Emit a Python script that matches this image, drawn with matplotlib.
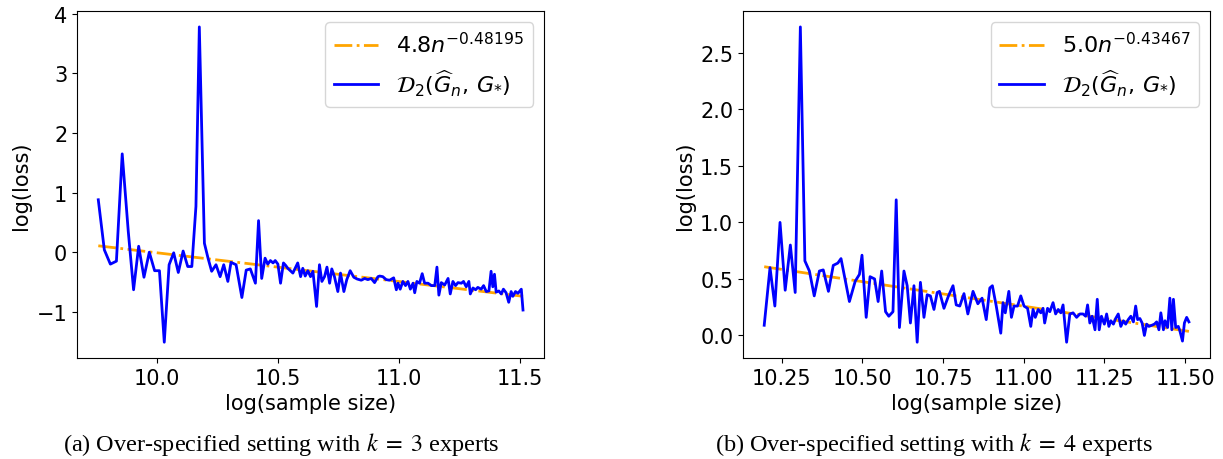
import numpy as np
import matplotlib
matplotlib.use("Agg")
import matplotlib.pyplot as plt

# ---- panel (a): k = 3 experts ----
x_a = [9.757, 9.782, 9.807, 9.832, 9.856, 9.881, 9.903, 9.924, 9.946, 9.968,
       9.990, 10.010, 10.030, 10.050, 10.069, 10.088, 10.108, 10.127, 10.144, 10.161,
       10.175, 10.196, 10.211, 10.226, 10.244, 10.261, 10.276, 10.293, 10.306, 10.327,
       10.351, 10.369, 10.386, 10.407, 10.420, 10.433, 10.447, 10.458, 10.469, 10.480,
       10.489, 10.500, 10.511, 10.523, 10.532, 10.541, 10.562, 10.582, 10.594, 10.603,
       10.613, 10.624, 10.635, 10.645, 10.660, 10.672, 10.682, 10.693, 10.703, 10.714,
       10.723, 10.734, 10.748, 10.759, 10.773, 10.785, 10.799, 10.814, 10.828, 10.845,
       10.859, 10.872, 10.886, 10.900, 10.914, 10.921, 10.934, 10.948, 10.962, 10.979,
       10.990, 10.997, 11.006, 11.017, 11.028, 11.038, 11.048, 11.059, 11.066, 11.075,
       11.086, 11.097, 11.107, 11.121, 11.135, 11.149, 11.158, 11.166, 11.176, 11.190,
       11.204, 11.213, 11.224, 11.235, 11.245, 11.259, 11.268, 11.279, 11.290, 11.296,
       11.307, 11.318, 11.327, 11.341, 11.351, 11.362, 11.373, 11.382, 11.389, 11.396,
       11.403, 11.414, 11.424, 11.433, 11.444, 11.455, 11.465, 11.472, 11.483, 11.493,
       11.507, 11.514]
loss_a = [0.88, 0.04, -0.20, -0.15, 1.65, 0.35, -0.63, 0.10, -0.42, 0.00,
          -0.31, -0.31, -1.51, -0.21, -0.01, -0.34, 0.02, -0.24, -0.24, 0.77,
          3.78, 0.15, -0.10, -0.32, -0.21, -0.41, -0.21, -0.49, -0.17, -0.21,
          -0.76, -0.30, -0.28, -0.52, 0.53, -0.44, -0.10, -0.20, -0.14, -0.18,
          -0.14, -0.20, -0.52, -0.18, -0.22, -0.27, -0.35, -0.18, -0.41, -0.27,
          -0.40, -0.31, -0.41, -0.32, -0.91, -0.21, -0.49, -0.41, -0.25, -0.52,
          -0.28, -0.41, -0.66, -0.35, -0.66, -0.46, -0.31, -0.42, -0.45, -0.47,
          -0.44, -0.46, -0.44, -0.51, -0.41, -0.40, -0.41, -0.46, -0.47, -0.43,
          -0.63, -0.52, -0.62, -0.49, -0.56, -0.49, -0.62, -0.52, -0.68, -0.49,
          -0.52, -0.36, -0.52, -0.52, -0.56, -0.56, -0.25, -0.72, -0.51, -0.55,
          -0.44, -0.70, -0.49, -0.56, -0.51, -0.52, -0.49, -0.58, -0.49, -0.70,
          -0.60, -0.63, -0.59, -0.62, -0.56, -0.66, -0.65, -0.32, -0.58, -0.37,
          -0.67, -0.65, -0.70, -0.62, -0.68, -0.84, -0.66, -0.74, -0.66, -0.69,
          -0.62, -0.97]
coef_a, rate_a = 4.81, 0.48195

# ---- panel (b): k = 4 experts ----
x_b = [10.196, 10.214, 10.229, 10.245, 10.261, 10.277, 10.292, 10.308, 10.322, 10.336,
       10.351, 10.367, 10.379, 10.395, 10.410, 10.424, 10.434, 10.460, 10.478, 10.491,
       10.499, 10.512, 10.524, 10.538, 10.549, 10.560, 10.572, 10.582, 10.595, 10.605,
       10.615, 10.629, 10.639, 10.649, 10.660, 10.670, 10.680, 10.691, 10.701, 10.711,
       10.722, 10.732, 10.739, 10.753, 10.767, 10.781, 10.791, 10.802, 10.815, 10.827,
       10.843, 10.858, 10.871, 10.884, 10.895, 10.903, 10.915, 10.929, 10.936, 10.943,
       10.954, 10.962, 10.970, 10.981, 10.991, 11.001, 11.012, 11.022, 11.029, 11.036,
       11.045, 11.053, 11.060, 11.065, 11.074, 11.081, 11.091, 11.099, 11.107, 11.115,
       11.122, 11.133, 11.143, 11.153, 11.164, 11.174, 11.184, 11.192, 11.198, 11.205,
       11.212, 11.221, 11.228, 11.234, 11.241, 11.250, 11.257, 11.264, 11.270, 11.278,
       11.285, 11.293, 11.301, 11.309, 11.316, 11.324, 11.332, 11.340, 11.347, 11.353,
       11.360, 11.367, 11.374, 11.381, 11.388, 11.397, 11.405, 11.412, 11.419, 11.425,
       11.433, 11.438, 11.446, 11.453, 11.459, 11.464, 11.471, 11.479, 11.484, 11.492,
       11.498, 11.505, 11.512]
loss_b = [0.09, 0.60, 0.26, 1.00, 0.40, 0.80, 0.38, 2.73, 0.66, 0.57,
          0.35, 0.57, 0.58, 0.39, 0.62, 0.64, 0.68, 0.30, 0.48, 0.54,
          0.71, 0.16, 0.52, 0.50, 0.30, 0.57, 0.21, 0.17, 0.21, 1.20,
          0.07, 0.57, 0.44, 0.11, 0.44, -0.06, 0.47, 0.16, 0.36, 0.35,
          0.23, 0.38, 0.39, 0.24, 0.35, 0.44, 0.27, 0.26, 0.37, 0.19,
          0.39, 0.28, 0.33, 0.14, 0.42, 0.44, 0.26, 0.02, 0.29, 0.20,
          0.39, 0.16, 0.26, 0.26, 0.35, 0.26, 0.24, 0.08, 0.23, 0.16,
          0.23, 0.20, 0.24, 0.11, 0.24, 0.21, 0.29, 0.19, 0.23, 0.20,
          0.27, -0.06, 0.19, 0.20, 0.16, 0.19, 0.19, 0.17, 0.27, 0.11,
          0.17, 0.05, 0.32, 0.05, 0.17, 0.10, 0.19, 0.08, 0.13, 0.10,
          0.15, 0.19, 0.08, 0.13, 0.10, 0.14, 0.17, 0.12, 0.26, 0.14,
          0.15, 0.11, 0.00, 0.10, 0.08, 0.09, 0.10, 0.12, 0.05, 0.20,
          0.05, 0.13, 0.07, 0.33, 0.05, 0.32, 0.07, 0.08, 0.04, -0.05,
          0.11, 0.16, 0.12]
coef_b, rate_b = 5.04, 0.43467

captions = [r"(a) Over-specified setting with $k\;=\;3$ experts",
            r"(b) Over-specified setting with $k\;=\;4$ experts"]

fig = plt.figure(figsize=(12.23, 4.6), dpi=100)
ax_a = fig.add_axes([0.063, 0.2196, 0.382, 0.754])
ax_b = fig.add_axes([0.6075, 0.2196, 0.382, 0.754])

panels = [
    (ax_a, x_a, loss_a, coef_a, rate_a, [10.0, 10.5, 11.0, 11.5], [-1, 0, 1, 2, 3, 4]),
    (ax_b, x_b, loss_b, coef_b, rate_b,
     [10.25, 10.50, 10.75, 11.00, 11.25, 11.50], [0.0, 0.5, 1.0, 1.5, 2.0, 2.5]),
]
for ax, xs, ys, c, r, xt, yt in panels:
    xs = np.array(xs)
    # fitted rate line in log-log space
    ax.plot(xs, c - r * xs, color="orange", ls="-.", lw=2,
            label=r"$%.1fn^{-%.5f}$" % (c, r))
    ax.plot(xs, ys, color="blue", lw=2,
            label=r"$\mathcal{D}_2(\widehat{G}_n,\,G_{*})$")
    ax.set_xticks(xt)
    ax.set_yticks(yt)
    ax.tick_params(labelsize=15)
    ax.set_xlabel("log(sample size)", fontsize=15)
    ax.set_ylabel("log(loss)", fontsize=15)
    ax.legend(loc="upper right", fontsize=16)

ax_a.set_xticklabels(["10.0", "10.5", "11.0", "11.5"])
ax_b.set_xticklabels(["10.25", "10.50", "10.75", "11.00", "11.25", "11.50"])
ax_b.set_yticklabels(["0.0", "0.5", "1.0", "1.5", "2.0", "2.5"])

fig.text(0.230, 0.0196, captions[0], ha="center", va="baseline", fontsize=17.5,
         family="Liberation Serif", math_fontfamily="stix")
fig.text(0.764, 0.0196, captions[1], ha="center", va="baseline", fontsize=17.5,
         family="Liberation Serif", math_fontfamily="stix")

plt.savefig("out.png", dpi=100)
